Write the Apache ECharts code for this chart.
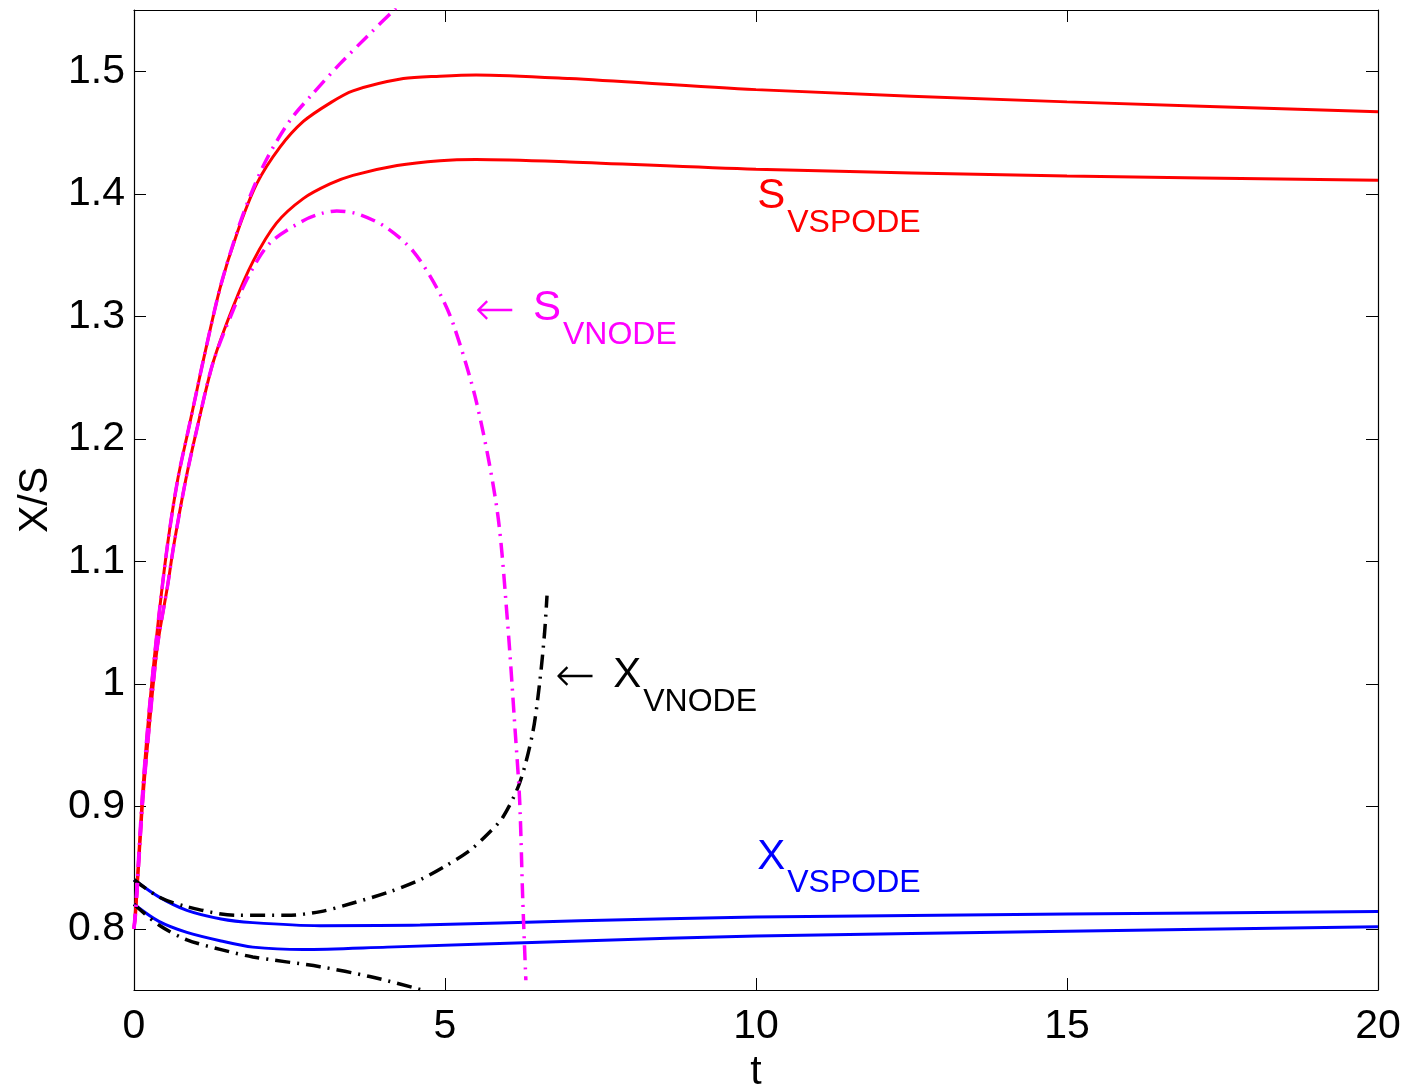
<!DOCTYPE html>
<html>
<head>
<meta charset="utf-8">
<script src="https://cdn.jsdelivr.net/npm/echarts@6/dist/echarts.min.js"></script>
<style>
html,body{margin:0;padding:0;background:#fff;}
#c{width:1410px;height:1088px;}
</style>
</head>
<body>
<div id="c"></div>
<script>
// ---- data ----
var sVspodeHiT = [0, 0.03, 0.134, 0.24, 0.375, 0.535, 0.70, 0.873, 1.0, 1.114, 1.383, 1.651, 1.972, 2.347, 2.722, 3.15, 3.52, 4.33, 4.92, 5.5, 7, 10, 15, 20];
var sVspodeHiV = [0.8, 0.82, 0.908, 0.976, 1.044, 1.112, 1.166, 1.207, 1.237, 1.264, 1.323, 1.367, 1.408, 1.438, 1.459, 1.474, 1.484, 1.494, 1.496, 1.497, 1.494, 1.485, 1.475, 1.467];

var sVspodeLoT = [0, 0.03, 0.134, 0.24, 0.375, 0.54, 0.643, 0.83, 1.007, 1.27, 1.595, 1.916, 2.29, 2.72, 3.15, 3.52, 4.23, 4.92, 5.5, 7, 10, 15, 20];
var sVspodeLoV = [0.8, 0.815, 0.9, 0.962, 1.03, 1.08, 1.114, 1.166, 1.207, 1.262, 1.308, 1.345, 1.376, 1.396, 1.408, 1.415, 1.423, 1.427, 1.428, 1.426, 1.42, 1.4145, 1.411];

var sVnodeHiT = [0, 0.03, 0.134, 0.24, 0.375, 0.535, 0.70, 0.873, 1.0, 1.114, 1.383, 1.651, 1.85, 2.13, 2.51, 2.88, 3.31, 3.74, 4.2, 4.3];
var sVnodeHiV = [0.8, 0.82, 0.908, 0.976, 1.044, 1.112, 1.166, 1.207, 1.237, 1.264, 1.323, 1.368, 1.396, 1.428, 1.46, 1.482, 1.506, 1.528, 1.551, 1.556];

var sVnodeLoT = [0, 0.03, 0.134, 0.24, 0.375, 0.54, 0.643, 0.83, 1.007, 1.27, 1.595, 1.865, 2.19, 2.72, 3.02, 3.26, 3.63, 4.07, 4.49, 4.87, 5.13, 5.51, 5.84, 6.0, 6.13, 6.2, 6.25, 6.3];
var sVnodeLoV = [0.8, 0.815, 0.9, 0.962, 1.03, 1.08, 1.114, 1.166, 1.207, 1.262, 1.305, 1.335, 1.36, 1.378, 1.384, 1.386, 1.383, 1.372, 1.353, 1.323, 1.294, 1.229, 1.141, 1.054, 0.96, 0.905, 0.824, 0.758];

var xVnodeHiT = [0, 0.4, 0.85, 1.65, 2.46, 3.0, 3.52, 4.1, 4.6, 5.0, 5.4, 5.7, 5.93, 6.2, 6.41, 6.52, 6.6, 6.64];
var xVnodeHiV = [0.84, 0.826, 0.818, 0.811, 0.811, 0.814, 0.821, 0.83, 0.84, 0.851, 0.864, 0.878, 0.891, 0.919, 0.96, 1.0, 1.041, 1.072];

var xVnodeLoT = [0, 0.4, 0.85, 1.4, 1.91, 2.99, 3.79, 4.49, 4.7];
var xVnodeLoV = [0.82, 0.803, 0.791, 0.783, 0.777, 0.769, 0.761, 0.752, 0.749];

var xVspodeHiT = [0, 0.4, 0.85, 1.4, 1.91, 2.99, 4.6, 7.17, 10, 15, 20];
var xVspodeHiV = [0.84, 0.826, 0.815, 0.808, 0.805, 0.8025, 0.803, 0.8065, 0.8095, 0.812, 0.814];

var xVspodeLoT = [0, 0.4, 0.85, 1.4, 1.91, 2.72, 4.07, 7.17, 10, 15, 20];
var xVspodeLoV = [0.82, 0.806, 0.797, 0.79, 0.785, 0.783, 0.785, 0.79, 0.794, 0.798, 0.8016];

var xTicks = [0, 5, 10, 15, 20];
var yTicks = [0.8, 0.9, 1.0, 1.1, 1.2, 1.3, 1.4, 1.5];

// ---- build ----
function pairs(t, v) { return t.map(function (x, i) { return [x, v[i]]; }); }
var FONT = "'Liberation Sans', Arial, Helvetica, sans-serif";
var dashDot = [15, 7, 2, 7];

function line(name, t, v, color, dashed, z) {
  return {
    name: name, type: 'line', data: pairs(t, v), showSymbol: false, symbol: 'none',
    smooth: 0.3, clip: true, z: z,
    lineStyle: { color: color, width: dashed ? 3.5 : 3, type: dashed ? dashDot : 'solid' },
    emphasis: { disabled: true }
  };
}

var chart = echarts.init(document.getElementById('c'), null, { renderer: 'canvas' });

var axisCommon = {
  axisLine: { show: true, onZero: false, lineStyle: { color: '#000', width: 1.2 } },
  axisTick: { show: true, inside: true, length: 12, lineStyle: { color: '#000', width: 1 } },
  splitLine: { show: false }
};

var option = {
  backgroundColor: '#fff',
  animation: false,
  grid: { left: 134, right: 32, top: 10, bottom: 98, containLabel: false, outerBoundsMode: 'none' },
  xAxis: [
    Object.assign({}, axisCommon, {
      type: 'value', min: 0, max: 20, interval: 5, position: 'bottom',
      name: 't', nameLocation: 'middle', nameGap: 58,
      nameTextStyle: { fontFamily: FONT, fontSize: 41, color: '#000' },
      axisLabel: { show: true, margin: 16, fontFamily: FONT, fontSize: 41, color: '#000',
        customValues: xTicks, formatter: function (v) { return String(v); } },
      axisTick: Object.assign({}, axisCommon.axisTick, { customValues: xTicks })
    }),
    Object.assign({}, axisCommon, {
      type: 'value', min: 0, max: 20, interval: 5, position: 'top',
      axisLabel: { show: false },
      axisTick: Object.assign({}, axisCommon.axisTick, { customValues: xTicks })
    })
  ],
  yAxis: [
    Object.assign({}, axisCommon, {
      type: 'value', min: 0.75, max: 1.55, position: 'left',
      name: 'X/S', nameLocation: 'middle', nameGap: 78, nameRotate: 90,
      nameTextStyle: { fontFamily: FONT, fontSize: 41, color: '#000' },
      axisLabel: { show: true, margin: 9, fontFamily: FONT, fontSize: 41, color: '#000',
        customValues: yTicks,
        formatter: function (v) { return String(parseFloat(Number(v).toFixed(1))); } },
      axisTick: Object.assign({}, axisCommon.axisTick, { customValues: yTicks })
    }),
    Object.assign({}, axisCommon, {
      type: 'value', min: 0.75, max: 1.55, position: 'right',
      axisLabel: { show: false },
      axisTick: Object.assign({}, axisCommon.axisTick, { customValues: yTicks })
    })
  ],
  series: [
    line('S VSPODE upper', sVspodeHiT, sVspodeHiV, '#ff0000', false, 2),
    line('S VSPODE lower', sVspodeLoT, sVspodeLoV, '#ff0000', false, 2),
    line('X VSPODE upper', xVspodeHiT, xVspodeHiV, '#0000ff', false, 3),
    line('X VSPODE lower', xVspodeLoT, xVspodeLoV, '#0000ff', false, 3),
    line('X VNODE upper', xVnodeHiT, xVnodeHiV, '#000000', true, 4),
    line('X VNODE lower', xVnodeLoT, xVnodeLoV, '#000000', true, 4),
    line('S VNODE upper', sVnodeHiT, sVnodeHiV, '#ff00ff', true, 5),
    line('S VNODE lower', sVnodeLoT, sVnodeLoV, '#ff00ff', true, 5)
  ]
};
chart.setOption(option);

// ---- annotations (anchored in data coordinates) ----
var annotations = [
  { at: [10.02, 1.386], color: '#ff0000', arrow: false, main: 'S', sub: 'VSPODE' },
  { at: [5.53, 1.294], color: '#ff00ff', arrow: true, main: 'S', sub: 'VNODE' },
  { at: [6.82, 0.995], color: '#000000', arrow: true, main: 'X', sub: 'VNODE' },
  { at: [10.02, 0.8465], color: '#0000ff', arrow: false, main: 'X', sub: 'VSPODE' }
];
var MAIN = 42, SUB = 32, ARROW = 48;
var els = [];
annotations.forEach(function (a) {
  var p = chart.convertToPixel({ gridIndex: 0 }, a.at);
  var x = p[0], base = p[1];
  if (a.arrow) {
    els.push({ type: 'text', x: x - 3, y: base - 11, z: 20,
      style: { text: '\u2190', font: "200 " + ARROW + "px 'DejaVu Sans', sans-serif", fill: a.color, verticalAlign: 'middle', align: 'left' } });
    x += 55;
  }
  els.push({ type: 'text', x: x, y: base - 0.35 * MAIN, z: 20,
    style: { text: a.main, font: MAIN + 'px ' + FONT, fill: a.color, verticalAlign: 'middle', align: 'left' } });
  els.push({ type: 'text', x: x + 30, y: base + 23 - 0.35 * SUB, z: 20,
    style: { text: a.sub, font: SUB + 'px ' + FONT, fill: a.color, verticalAlign: 'middle', align: 'left' } });
});
chart.setOption({ graphic: els });
</script>
</body>
</html>
